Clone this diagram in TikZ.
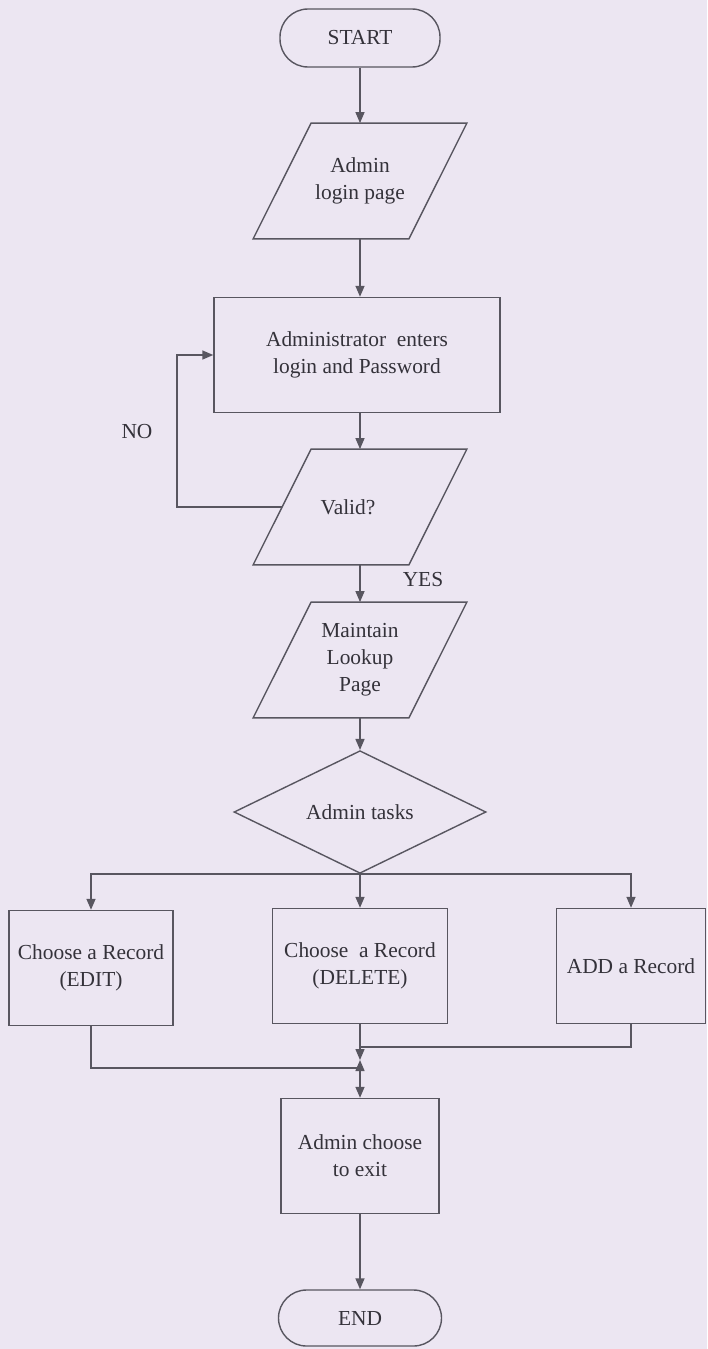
\documentclass[tikz,border=0pt]{standalone}
\usepackage{fontspec}
\setmainfont{Liberation Serif}
\usepackage{xcolor}
\usetikzlibrary{shapes.geometric,arrows.meta}
\definecolor{cPaper}{RGB}{236,230,242}
\definecolor{cLine}{RGB}{88,86,96}
\definecolor{cText}{RGB}{52,50,58}

\begin{document}
\begin{tikzpicture}[x=0.5pt,y=-0.5pt,font=\fontsize{10.7}{13.5}\selectfont,
  every node/.style={text=cText},
  lin/.style={draw=cLine,line width=0.7pt},
  arr/.style={lin,-{Triangle[length=5.5pt,width=4.5pt]}},
  term/.style={lin,rectangle,rounded corners=14pt,minimum width=80pt,minimum height=29pt,inner sep=0pt},
  io/.style={rectangle,minimum width=106.5pt,minimum height=57.5pt,inner sep=0pt,align=center},
  proc/.style={lin,rectangle,minimum height=57.5pt,inner sep=0pt,align=center},
  dec/.style={lin,diamond,minimum width=126pt,minimum height=57pt,inner sep=0pt}]
\fill[cPaper] (0,0) rectangle (707,1349);
\useasboundingbox (0,0) rectangle (707,1349);
% main column
\node[term] (start) at (360,38) {START};
\node[io] (login) at (360,181) {Admin\\login page};
\node[proc,minimum width=143pt] (enter) at (357,355) {Administrator\ \ enters\\login and Password};
\node[io] (valid) at (360,507) {\hspace*{-12pt}Valid?};
\node[io] (lookup) at (360,660) {Maintain\\Lookup\\Page};
\node[dec] (tasks) at (360,812) {Admin tasks};
% slanted input/output frames
\foreach \n in {login,valid,lookup}
  \draw[lin] (\n.south west) -- ([xshift=-29pt]\n.south east) -- (\n.north east) -- ([xshift=29pt]\n.north west) -- cycle;
% three tasks
\node[proc,minimum width=82pt] (edit) at (91,968) {Choose a Record\\(EDIT)};
\node[proc,minimum width=87.5pt] (delete) at (360,966) {Choose\ \ a Record\\(DELETE)};
\node[proc,minimum width=74.5pt] (add) at (631,966) {ADD a Record};
\node[proc,minimum width=79pt] (exit) at (360,1156) {Admin choose\\to exit};
\node[term,minimum width=81.5pt,minimum height=28pt] (end) at (360,1318) {END};
\node (no) at (137,432) {NO};
\node (yes) at (423,580) {YES};
% connectors
\draw[arr] (start) -- (login);
\draw[arr] (login) -- (login |- enter.north);
\draw[arr] (valid |- enter.south) -- (valid);
\draw[arr] ([xshift=14.5pt]valid.west) -- ++(-105,0) |- (enter.west);
\draw[arr] (valid) -- (lookup);
\draw[arr] (lookup) -- (tasks);
\draw[arr] (tasks.south) -| (edit);
\draw[arr] (tasks.south) -| (add);
\draw[arr] (tasks) -- (delete);
\coordinate (joinA) at (360,1047);
\coordinate (joinB) at (360,1068);
\coordinate (mid) at (360,1060);
\coordinate (low) at (360,1074);
\draw[arr] (delete) -- (mid);
\draw[lin] (add) |- (joinA);
\draw[lin] (edit) |- (joinB);
\draw[arr] (low) -- (mid);
\draw[arr] (low) -- (exit);
\draw[arr] (exit) -- (end);
\end{tikzpicture}
\end{document}
